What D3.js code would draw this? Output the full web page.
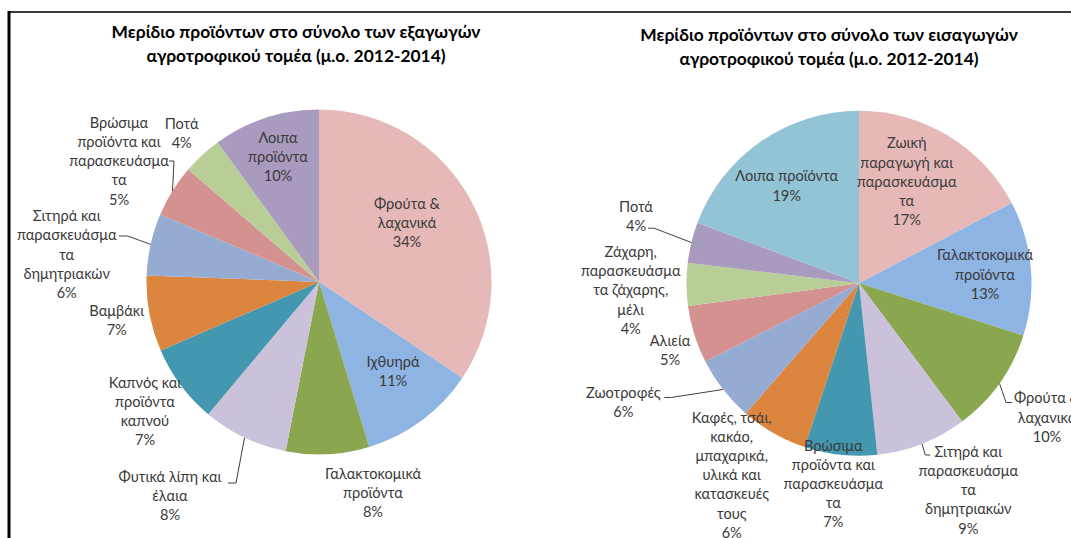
<!DOCTYPE html>
<html>
<head>
<meta charset="utf-8">
<script src="https://cdn.jsdelivr.net/npm/d3@7"></script>
<style>
  body { margin: 0; background: #fff; }
  svg { display: block; font-family: Lato, Roboto, sans-serif; }
</style>
</head>
<body>
<svg id="chart" width="1071" height="538"></svg>
<script>
// εξαγωγές
const expCats = ['Φρούτα &\nλαχανικά', 'Ιχθυηρά', 'Γαλακτοκομικά\nπροϊόντα', 'Φυτικά λίπη και\nέλαια',
  'Καπνός και\nπροϊόντα\nκαπνού', 'Βαμβάκι', 'Σιτηρά και\nπαρασκευάσμα\nτα\nδημητριακών',
  'Βρώσιμα\nπροϊόντα και\nπαρασκευάσμα\nτα', 'Ποτά', 'Λοιπα\nπροϊόντα'];
const expVals = [34.4, 10.9, 7.8, 8.0, 7.4, 7.1, 5.8, 4.9, 3.7, 10.0];

// εισαγωγές
const impCats = ['Ζωική\nπαραγωγή και\nπαρασκευάσμα\nτα', 'Γαλακτοκομικά\nπροϊόντα', 'Φρούτα &\nλαχανικά',
  'Σιτηρά και\nπαρασκευάσμα\nτα\nδημητριακών', 'Βρώσιμα\nπροϊόντα και\nπαρασκευάσμα\nτα',
  'Καφές, τσάι,\nκακάο,\nμπαχαρικά,\nυλικά και\nκατασκευές\nτους', 'Ζωοτροφές', 'Αλιεία',
  'Ζάχαρη,\nπαρασκευάσμα\nτα ζάχαρης,\nμέλι', 'Ποτά', 'Λοιπα προϊόντα'];
const impVals = [17.3, 12.6, 9.9, 8.5, 6.8, 6.3, 6.1, 5.4, 4.0, 3.8, 19.3];

const colors = ['#E6B9B8', '#8EB4E3', '#8AA64F', '#CCC1DA', '#4397AE', '#DC853F',
  '#95ABD1', '#D39290', '#B9CE96', '#A99BBE', '#93C4D5'];

// θέσεις ετικετών (σε σχέση με το κέντρο της πίτας) και γραμμές οδηγοί
const expLayout = [[88, -59], [74, 89.5], [54, 210.7], [-149, 214], [-174, 129.5], [-202.3, 38.3],
  [-252.3, -27.5], [-200, -121], [-137.3, -148.3], [-41, -125]];
const expLeaders = { 3: [58, -13, 8], 6: [52, -18.5, 9], 7: [50, 0, 5] };

const impLayout = [[47.7, -101.6], [126, -8.9], [188, 134.2], [109.3, 206.7], [-25.7, 200.5],
  [-127.3, 191.7], [-235.7, 119.2], [-189, 67.2], [-228.3, 7], [-223, -67.1], [-72.3, -97.5]];
const impLeaders = { 2: [-35, -15, -6], 3: [-38, -35, -5], 6: [41, -5, 7], 9: [12, 12, 6] };

const svg = d3.select('#chart');
const radius = 172.5;
const lineH = 19.2;

// πλαίσιο
svg.append('line').attr('x1', 9).attr('x2', 1071).attr('y1', 12).attr('y2', 12)
  .attr('stroke', '#3a3a3a').attr('stroke-width', 2);
svg.append('line').attr('x1', 9).attr('x2', 9).attr('y1', 11).attr('y2', 538)
  .attr('stroke', '#000').attr('stroke-width', 3);

function drawPie(cx, cy, titleX, titleY, title, cats, vals, layout, leaders) {
  svg.append('text')
    .attr('x', titleX).attr('y', titleY)
    .attr('text-anchor', 'middle')
    .attr('font-size', 17.4).attr('font-weight', 'bold').attr('fill', '#000')
    .selectAll('tspan').data(title).enter().append('tspan')
    .attr('x', titleX).attr('dy', (d, i) => i === 0 ? 0 : 24)
    .text(d => d);

  const g = svg.append('g').attr('transform', `translate(${cx},${cy})`);
  const pie = d3.pie().sort(null).value(d => d);
  const arcs = pie(vals);
  const arc = d3.arc().innerRadius(0).outerRadius(radius);
  const edge = d3.arc().innerRadius(radius).outerRadius(radius);

  g.selectAll('path.slice').data(arcs).enter().append('path')
    .attr('class', 'slice')
    .attr('d', arc)
    .attr('fill', (d, i) => colors[i]);

  // γραμμές οδηγοί
  arcs.forEach((d, i) => {
    const l = leaders[i];
    if (!l) return;
    const p = edge.centroid(d);
    const ax = layout[i][0] + l[0];
    const ay = layout[i][1] + l[1];
    g.append('polyline')
      .attr('points', [p, [ax + l[2], ay], [ax, ay]].map(q => q.join(',')).join(' '))
      .attr('fill', 'none').attr('stroke', '#404040').attr('stroke-width', 1);
  });

  // ετικέτες
  arcs.forEach((d, i) => {
    const lines = cats[i].split('\n').concat([Math.round(vals[i]) + '%']);
    const [lx, ly] = layout[i];
    const top = ly - (lines.length - 1) * lineH / 2;
    const t = g.append('text')
      .attr('text-anchor', 'middle')
      .attr('font-size', 14.6).attr('fill', '#3a3a3a');
    lines.forEach((s, j) => {
      t.append('tspan').attr('x', lx).attr('y', top + j * lineH).attr('dy', '0.35em').text(s);
    });
  });
}

drawPie(319, 282, 296, 38, ['Μερίδιο προϊόντων στο σύνολο των εξαγωγών', 'αγροτροφικού τομέα (μ.ο. 2012-2014)'],
  expCats, expVals, expLayout, expLeaders);
drawPie(859, 283.3, 829, 41, ['Μερίδιο προϊόντων στο σύνολο των εισαγωγών', 'αγροτροφικού τομέα (μ.ο. 2012-2014)'],
  impCats, impVals, impLayout, impLeaders);
</script>
</body>
</html>
